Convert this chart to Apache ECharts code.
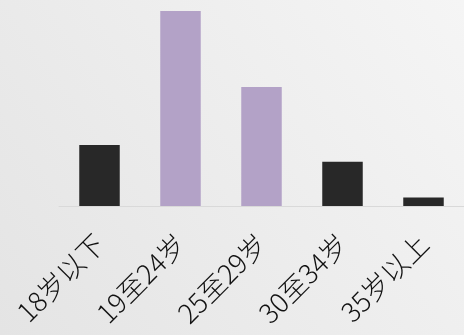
<!DOCTYPE html>
<html><head><meta charset="utf-8">
<script src="https://cdn.jsdelivr.net/npm/echarts@6/dist/echarts.min.js"></script>
<style>html,body{margin:0;padding:0;}#c{width:464px;height:335px;}</style>
</head><body><div id="c"></div>
<script>
const categories = ['18岁以下', '19至24岁', '25至29岁', '30至34岁', '35岁以上'];
const values = [9.4, 30, 18.3, 6.8, 1.3];
const barColors = ['#282828', '#b3a2c7', '#b3a2c7', '#282828', '#282828'];

const chart = echarts.init(document.getElementById('c'));
chart.setOption({
  animation: false,
  backgroundColor: new echarts.graphic.LinearGradient(0, 1, 1, 0, [
    {offset: 0, color: '#e4e4e4'},
    {offset: 1, color: '#f5f5f5'}
  ]),
  grid: {left: 59, right: 0, top: 11, bottom: 129},
  xAxis: {
    type: 'category',
    data: categories,
    axisLine: {lineStyle: {color: '#d9d9d9', width: 1}},
    axisTick: {show: false},
    axisLabel: {
      rotate: 45, interval: 0, margin: 33,
      fontSize: 27, color: '#111', fontWeight: 300,
      fontFamily: '"Noto Sans CJK SC", sans-serif'
    }
  },
  yAxis: {type: 'value', min: 0, max: 30, show: false, splitLine: {show: false}},
  series: [{
    type: 'bar',
    barWidth: '50%',
    data: values.map((v, i) => ({value: v, itemStyle: {color: barColors[i]}}))
  }]
});
</script></body></html>
